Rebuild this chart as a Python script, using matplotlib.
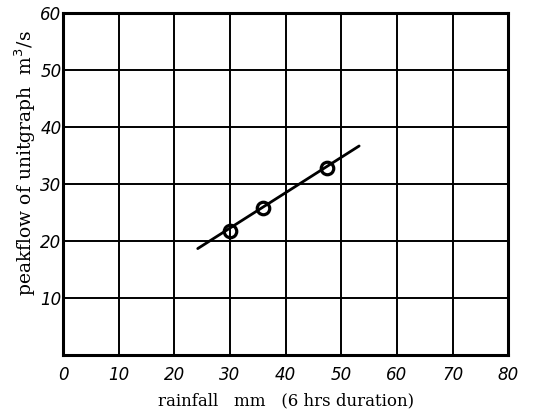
import matplotlib.pyplot as plt
import numpy as np

# observed points
rain = [30, 36, 47.5]
peak = [21.7, 25.8, 32.8]
# fitted line ends
fit_x = [24.2, 53.2]
fit_y = [18.7, 36.7]

xticks = [0, 10, 20, 30, 40, 50, 60, 70, 80]
yticks = [10, 20, 30, 40, 50, 60]

fig = plt.figure(figsize=(5.39, 4.12), dpi=100)
ax = fig.add_axes([0.117, 0.138, 0.826, 0.83])

ax.plot(fit_x, fit_y, color='black', lw=2.0, solid_capstyle='round')
ax.plot(rain, peak, 'o', mfc='none', mec='black', mew=2.3, ms=9)

ax.set_xlim(0, 80)
ax.set_ylim(0, 60)
ax.set_xticks(xticks)
ax.set_yticks(yticks)
ax.grid(True, color='black', lw=1.4)
ax.tick_params(length=0, pad=8)
for lab in ax.get_xticklabels() + ax.get_yticklabels():
    lab.set_fontstyle('italic')
    lab.set_fontsize(12)
ax.tick_params(axis='y', pad=1)
for s in ax.spines.values():
    s.set_linewidth(2.2)

ax.set_xlabel("rainfall   mm   (6 hrs duration)", family='DejaVu Serif', fontsize=12, labelpad=6)
ax.set_ylabel("peakflow of unitgraph  m$^3$/s", family='DejaVu Serif', fontsize=13.5, va='center')
ax.yaxis.set_label_coords(-0.085, 0.56)

fig.savefig("out.png", dpi=100)
